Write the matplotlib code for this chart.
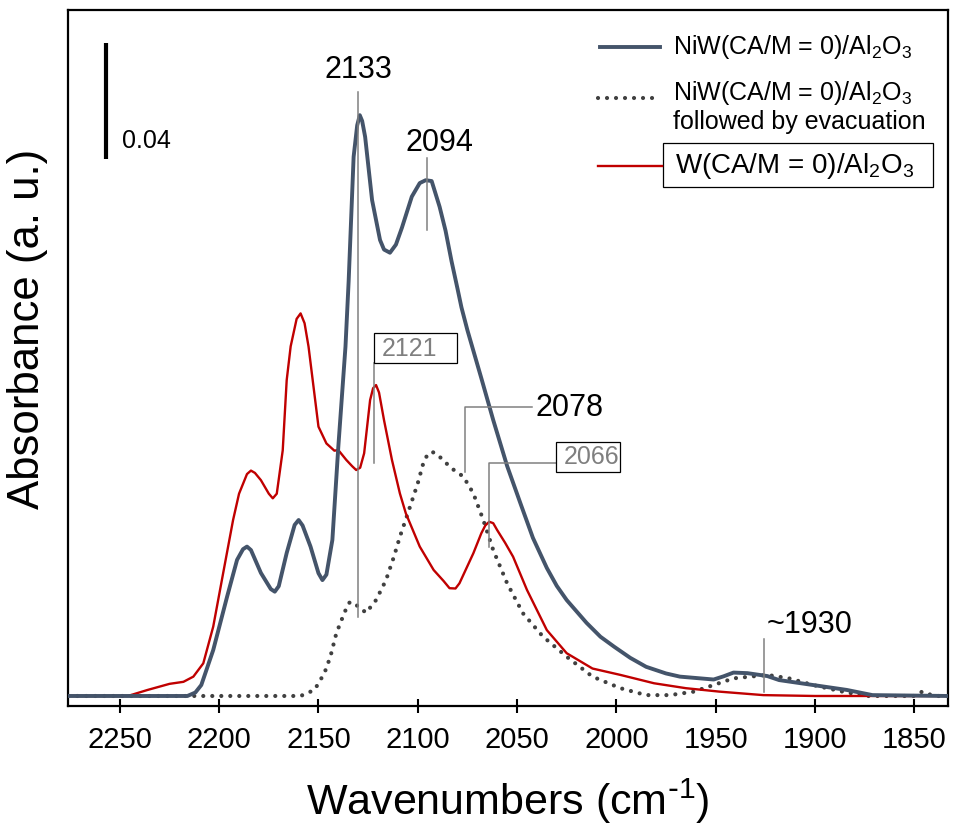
import matplotlib
matplotlib.use("Agg")
import matplotlib.pyplot as plt
from matplotlib.patches import Rectangle
from matplotlib.lines import Line2D

plt.rcParams['font.family'] = ['Liberation Sans', 'DejaVu Sans']

# NiW(CA/M = 0)/Al2O3
niw_wn = [2276, 2216, 2212, 2209, 2203, 2196, 2191, 2188, 2186, 2184,
          2179, 2174, 2172, 2170, 2166, 2162, 2160, 2158, 2154, 2150,
          2148, 2146, 2143, 2140, 2136.4, 2134.8, 2132.3, 2130.5, 2129.2, 2128,
          2126.5, 2123, 2119, 2117, 2114, 2111, 2108, 2103, 2099, 2096,
          2093, 2089, 2086, 2083, 2080, 2078, 2075, 2068, 2062, 2055,
          2048, 2042, 2035, 2030, 2025, 2015, 2008, 2001, 1993, 1985,
          1975, 1968, 1951, 1946, 1941, 1934, 1924, 1918, 1901, 1884,
          1871, 1833]
niw_abs = [0, 0, 0.0012, 0.0038, 0.0159, 0.0344, 0.0471, 0.0508, 0.0517, 0.0505,
           0.0426, 0.0370, 0.0361, 0.0380, 0.0495, 0.0592, 0.0609, 0.0590, 0.0517, 0.0425,
           0.0401, 0.0420, 0.0540, 0.0863, 0.1209, 0.1436, 0.1866, 0.1975, 0.2010, 0.1990,
           0.1935, 0.1716, 0.1578, 0.1545, 0.1534, 0.1562, 0.1620, 0.1728, 0.1775, 0.1785,
           0.1782, 0.1693, 0.1610, 0.1505, 0.1410, 0.1345, 0.1266, 0.1100, 0.0955, 0.0796,
           0.0661, 0.0547, 0.0443, 0.0381, 0.0332, 0.0253, 0.0205, 0.0170, 0.0132, 0.0101,
           0.0078, 0.0067, 0.0057, 0.0068, 0.0081, 0.0079, 0.0069, 0.0055, 0.0038, 0.0021,
           0.0003, 0]

# NiW(CA/M = 0)/Al2O3 followed by evacuation
ev_wn = [2276, 2159, 2152, 2147, 2144, 2141, 2137, 2135, 2134, 2131,
         2126, 2121, 2116, 2112, 2109, 2105, 2100, 2097, 2095, 2093,
         2091, 2089, 2083, 2077, 2072, 2067, 2062, 2055, 2047, 2037,
         2025, 2012, 1998, 1985, 1973, 1961, 1951, 1941, 1924, 1913,
         1901, 1886, 1874, 1850, 1846, 1840, 1833]
ev_abs = [0, 0, 0.0021, 0.0079, 0.0136, 0.0217, 0.0287, 0.0318, 0.0326, 0.0315,
          0.0288, 0.0332, 0.0401, 0.0482, 0.0551, 0.0632, 0.0736, 0.0811, 0.0836, 0.0845,
          0.0840, 0.0828, 0.0788, 0.0759, 0.0701, 0.0609, 0.0505, 0.0390, 0.0286, 0.0206,
          0.0136, 0.0067, 0.0027, 0.0003, 0.0003, 0.0015, 0.0038, 0.0061, 0.0073, 0.0061,
          0.0038, 0.0015, 0, 0, 0.0015, 0, 0]

# W(CA/M = 0)/Al2O3
w_wn = [2276, 2246, 2236, 2225, 2218, 2213, 2208, 2203, 2198, 2193,
        2190, 2186, 2184, 2182, 2179, 2175, 2173, 2171, 2168, 2166,
        2164, 2161, 2159, 2157, 2155, 2150, 2146, 2142, 2140, 2136,
        2133, 2131, 2129, 2127, 2124, 2122.5, 2121, 2119.5, 2117, 2113,
        2109, 2106, 2099, 2092, 2087, 2084, 2081, 2079, 2072, 2068,
        2066, 2064, 2062, 2060, 2056, 2052, 2045, 2035, 2025, 2012,
        1998, 1981, 1965, 1948, 1926, 1900, 1833]
w_abs = [0, 0, 0.0021, 0.0042, 0.0049, 0.0067, 0.0113, 0.0240, 0.0425, 0.0609,
         0.0700, 0.0768, 0.0780, 0.0772, 0.0747, 0.0700, 0.0684, 0.0700, 0.0850, 0.1093,
         0.1210, 0.1305, 0.1324, 0.1290, 0.1209, 0.0932, 0.0874, 0.0849, 0.0851, 0.0817,
         0.0795, 0.0782, 0.0790, 0.0840, 0.1024, 0.1065, 0.1076, 0.1050, 0.0955, 0.0817,
         0.0701, 0.0632, 0.0517, 0.0436, 0.0398, 0.0373, 0.0372, 0.0390, 0.0494, 0.0563,
         0.0590, 0.0603, 0.0598, 0.0574, 0.0530, 0.0482, 0.0367, 0.0228, 0.0148, 0.0095,
         0.0073, 0.0044, 0.0027, 0.0015, 0.0003, 0, 0]

xticks = [2250, 2200, 2150, 2100, 2050, 2000, 1950, 1900, 1850]

c_niw = '#44546a'
c_ev = '#404040'
c_w = '#c00000'
c_ann = '#808080'

fig = plt.figure(figsize=(9.56, 8.26), dpi=100)
ax = fig.add_axes([0.0714, 0.1453, 0.9202, 0.8426])

dots = (0, (0.01, 2.15))
ax.plot(ev_wn, ev_abs, color=c_ev, lw=3.0, linestyle=dots, dash_capstyle='round', zorder=3)
ax.plot(w_wn, w_abs, color=c_w, lw=1.7, solid_joinstyle='round', zorder=4)
ax.plot(niw_wn, niw_abs, color=c_niw, lw=2.8, solid_joinstyle='round', zorder=5)

ax.set_xlim(2276, 1833)
ax.set_ylim(-0.00346, 0.2374)
ax.set_xticks(xticks)
ax.set_yticks([])
ax.tick_params(axis='x', direction='inout', length=9.5, width=1.5, labelsize=21, pad=10)
for s in ax.spines.values():
    s.set_linewidth(1.6)

ax.set_xlabel('Wavenumbers (cm$^{\\mathregular{\\text{-}1}}$)', fontsize=31, va='center')
ax.xaxis.set_label_coords(0.5, -0.1375)
ax.set_ylabel('Absorbance (a. u.)', fontsize=31.5, va='center')
ax.yaxis.set_label_coords(-0.0458, 0.542)

# scale bar
ax.plot([2257.2, 2257.2], [0.1860, 0.2260], color='black', lw=3, solid_capstyle='butt')
ax.text(2249.1, 0.1920, '0.04', fontsize=18, va='center', ha='left')

# peak labels
big = 22
ax.plot([2130.3, 2130.3], [0.0273, 0.209], color=c_ann, lw=1.1, zorder=6)
ax.text(2129.9, 0.2165, '2133', fontsize=big, ha='center', va='center')

ax.plot([2095.2, 2095.2], [0.1612, 0.1861], color=c_ann, lw=1.1, zorder=6)
ax.text(2089.1, 0.1915, '2094', fontsize=big, ha='center', va='center')

ax.plot([2121.9, 2121.9], [0.0806, 0.1151], color=c_ann, lw=1.1, zorder=6)
ax.add_patch(Rectangle((2121.9, 0.1151), 2080.2 - 2121.9, 0.1255 - 0.1151,
                       facecolor='white', edgecolor='black', lw=0.9, zorder=6))
ax.text(2118.0, 0.1201, '2121', fontsize=18, color='#7f7f7f', ha='left', va='center', zorder=7)

ax.plot([2076.1, 2076.1, 2042.5], [0.0775, 0.0999, 0.0999], color=c_ann, lw=1.1, zorder=6)
ax.text(2040.8, 0.0996, '2078', fontsize=big, ha='left', va='center')

ax.plot([2064.3, 2064.3, 2030.4], [0.0517, 0.0807, 0.0807], color=c_ann, lw=1.1, zorder=6)
ax.add_patch(Rectangle((2030.4, 0.0774), 1998.4 - 2030.4, 0.0880 - 0.0774,
                       facecolor='white', edgecolor='black', lw=0.9, zorder=6))
ax.text(2026.6, 0.0827, '2066', fontsize=18, color='#7f7f7f', ha='left', va='center', zorder=7)

ax.plot([1925.6, 1925.6], [0.0014, 0.0197], color=c_ann, lw=1.1, zorder=6)
ax.text(1924.1, 0.0246, '~1930', fontsize=big, ha='left', va='center')

# legend drawn by hand
lab = 'NiW(CA/M = 0)/$\\mathregular{Al_2O_3}$'
ax.add_line(Line2D([0.6045, 0.6727], [0.9473, 0.9473], transform=ax.transAxes,
                   color=c_niw, lw=2.8))
ax.text(0.6874, 0.9468, lab, transform=ax.transAxes, fontsize=18, va='center')

ax.add_line(Line2D([0.6022, 0.6704], [0.8736, 0.8736], transform=ax.transAxes,
                   color=c_ev, lw=3.0, linestyle=dots, dash_capstyle='round'))
ax.text(0.6874, 0.8807, lab, transform=ax.transAxes, fontsize=18, va='center')
ax.text(0.6874, 0.8395, 'followed by evacuation', transform=ax.transAxes, fontsize=18, va='center')

ax.add_line(Line2D([0.6022, 0.6749], [0.7763, 0.7763], transform=ax.transAxes,
                   color=c_w, lw=1.7))
ax.add_patch(Rectangle((0.6757, 0.7462), 0.9833 - 0.6757, 0.8085 - 0.7462,
                       transform=ax.transAxes, facecolor='white', edgecolor='black', lw=0.9))
ax.text(0.6897, 0.7759, 'W(CA/M = 0)/$\\mathregular{Al_2O_3}$', transform=ax.transAxes,
        fontsize=20, va='center')

fig.savefig('out.png', dpi=100)
